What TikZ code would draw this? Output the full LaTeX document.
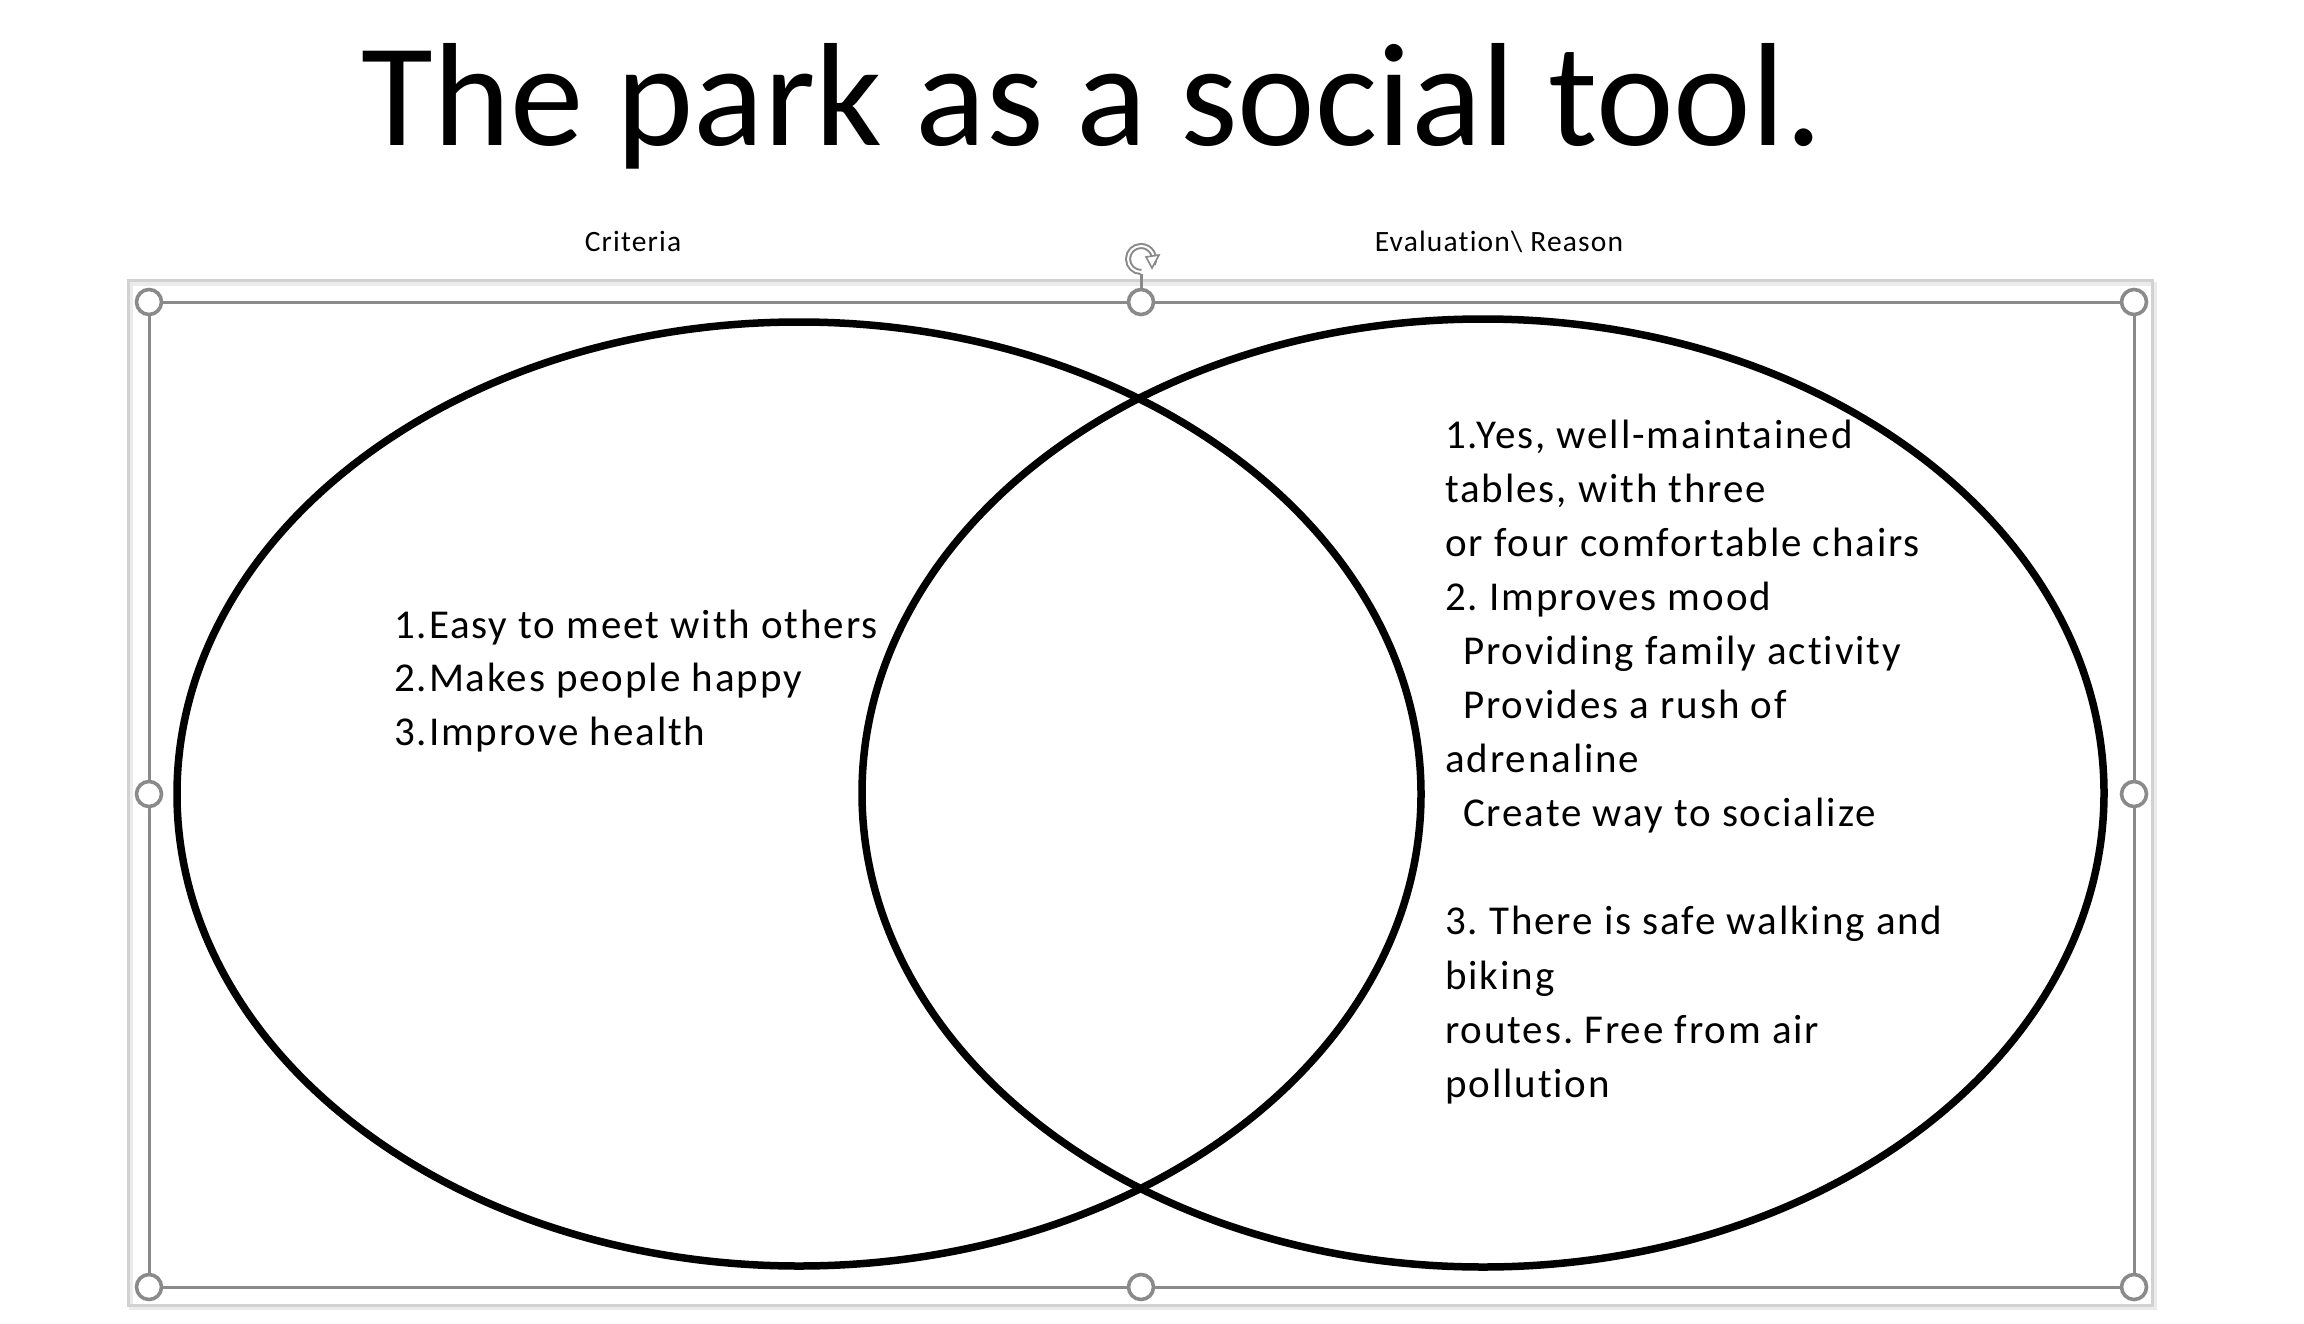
\documentclass[tikz,border=0pt]{standalone}
\usepackage{fontspec}
\setmainfont[Ligatures=NoCommon]{Carlito}
\newfontfamily\spacedfont[LetterSpace=4.6,Ligatures=NoCommon]{Carlito}
\newfontfamily\headfont[LetterSpace=4,Ligatures=NoCommon]{Carlito}
\usetikzlibrary{arrows.meta,calc}
\frenchspacing

\definecolor{handlegray}{HTML}{8A8A8A}
\definecolor{framegray}{HTML}{D2D2D2}

\tikzset{
  venn/.style={draw=black, line width=7.5pt},
  selline/.style={draw=handlegray, line width=3pt},
  handle/.style={draw=handlegray, fill=white, line width=3.6pt},
  bodytext/.style={anchor=base west, inner sep=0pt, font=\spacedfont\fontsize{41}{54.1}\selectfont},
  headtext/.style={anchor=base, inner sep=0pt, font=\headfont\fontsize{29.5}{35}\selectfont},
}

\newcommand{\ind}{\hskip18pt}

\begin{document}
\begin{tikzpicture}[x=1pt, y=-1pt]
  \useasboundingbox[fill=white] (0,0) rectangle (2304,1324);

  % title
  \node[anchor=base, inner sep=0pt, font=\fontsize{147}{177}\selectfont] (title) at (1092,146) {The park as a social tool.};

  % column headings
  \node[headtext] (crit) at (633,252) {Criteria};
  \node[headtext] (eval) at (1499,252) {Evaluation\textbackslash\ Reason};

  % picture frame with a soft shadow
  \draw[draw=black!8, line width=4pt] (131,284) rectangle (2155,1308);
  \draw[draw=framegray, line width=3pt] (128,281) rectangle (2152,1305);

  % the two overlapping sets
  \draw[venn] (799,794) ellipse [x radius=622, y radius=472];
  \draw[venn] (1483,793) ellipse [x radius=621, y radius=474];

  % selection outline
  \coordinate (tl) at (149,302);
  \coordinate (tm) at (1141,302);
  \coordinate (tr) at (2134,302);
  \coordinate (ml) at (149,794);
  \coordinate (mr) at (2134,794);
  \coordinate (bl) at (149,1287);
  \coordinate (bm) at (1141,1287);
  \coordinate (br) at (2134,1287);
  \coordinate (rot) at (1141,259);
  \coordinate (stem) at (1141,274);
  \draw[selline] (tl) rectangle (br);
  \draw[selline] (tm) -- (stem);

  % rotation grip
  \draw[draw=handlegray, line width=6pt] (rot) ++(0,13) arc[start angle=-270, end angle=25, radius=13];
  \draw[draw=white, line width=2pt] (rot) ++(0,13) arc[start angle=-270, end angle=25, radius=13];
  \draw[draw=handlegray, line width=1.6pt, fill=white, line join=miter]
    ($(rot)+(5,-2)$) -- ++(13,-2) -- ++(-7,13) -- cycle;

  % sizing handles
  \foreach \h in {tl,tm,tr,ml,mr,bl,bm,br}
    \draw[handle] (\h) circle[radius=12.5];

  % criteria list
  \node[bodytext] (left) at (394,638) {\vtop{\baselineskip=53.5pt
    \hbox{1.Easy to meet with others}
    \hbox{2.Makes people happy}
    \hbox{3.Improve health}}};

  % evaluation list
  \node[bodytext] (right) at (1445,448) {\vtop{\baselineskip=54.1pt
    \hbox{1.Yes, well-maintained}
    \hbox{tables, with three}
    \hbox{or four comfortable chairs}
    \hbox{2. Improves mood}
    \hbox{\ind Providing family activity}
    \hbox{\ind Provides a rush of}
    \hbox{adrenaline}
    \hbox{\ind Create way to socialize}
    \hbox{}
    \hbox{3. There is safe walking and}
    \hbox{biking}
    \hbox{routes. Free from air}
    \hbox{pollution}}};
\end{tikzpicture}
\end{document}
